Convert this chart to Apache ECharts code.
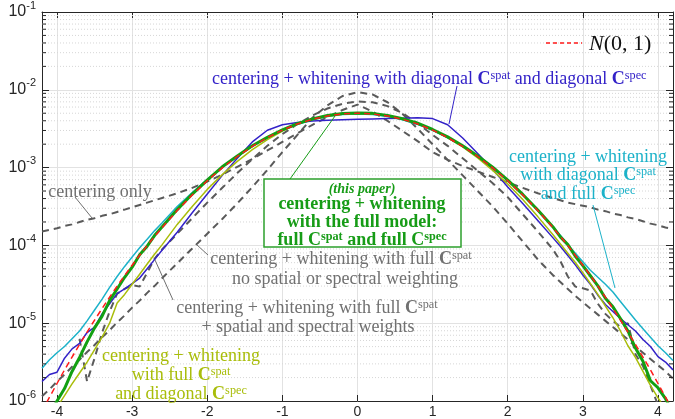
<!DOCTYPE html>
<html>
<head>
<meta charset="utf-8">
<title>whitened residuals</title>
<script src="https://cdn.jsdelivr.net/npm/echarts@6/dist/echarts.min.js"></script>
<style>
html, body { margin: 0; padding: 0; background: #fff; }
#wrap { position: relative; width: 675px; height: 419px; }
#chart { width: 675px; height: 419px; }
.note { position: absolute; white-space: nowrap; font-family: "Liberation Serif", serif; line-height: 1; pointer-events: none; }
.note b { font-weight: bold; }
.note sup { font-size: 68%; vertical-align: 0.42em; line-height: 0; }
.note .tp { font-style: italic; font-weight: bold; font-size: 78%; }
</style>
</head>
<body>
<div id="wrap"><div id="chart"></div></div>
<script>
// x positions of the sampled histogram values
const xs = [-4.2,-4.1,-4.0,-3.9,-3.8,-3.7,-3.6,-3.5,-3.4,-3.3,-3.2,-3.1,-3.0,-2.9,-2.8,-2.7,-2.6,
  -2.4,-2.2,-2.0,-1.8,-1.6,-1.4,-1.2,-1.0,-0.8,-0.6,-0.4,-0.2,0,0.2,0.4,0.6,0.8,1.0,1.2,1.4,1.6,1.8,2.0,2.2,2.4,
  2.6,2.7,2.8,2.9,3.0,3.1,3.2,3.3,3.4,3.5,3.6,3.7,3.8,3.9,4.0,4.1,4.2];

// every series below is log10 of the plotted density
const normalLog = [-6.13,-5.95,-5.775,-5.6,-5.436,-5.273,-5.115,-4.96,-4.811,-4.665,-4.524,-4.387,-4.255,-4.127,-4.003,-3.884,-3.769,
  -3.551,-3.352,-3.169,-3.004,-2.857,-2.727,-2.614,-2.518,-2.44,-2.379,-2.336,-2.31,-2.301,-2.31,-2.336,-2.379,-2.44,-2.518,-2.614,-2.727,-2.857,-3.004,-3.169,-3.352,-3.551,
  -3.769,-3.884,-4.003,-4.127,-4.255,-4.387,-4.524,-4.665,-4.811,-4.96,-5.115,-5.273,-5.436,-5.6,-5.775,-5.95,-6.13];
const fullModelLog = [-6.35,-6.18,-6.0,-5.84,-5.62,-5.44,-5.24,-5.06,-4.91,-4.71,-4.56,-4.41,-4.28,-4.12,-4.01,-3.87,-3.76,
  -3.54,-3.34,-3.16,-2.99,-2.85,-2.72,-2.61,-2.515,-2.435,-2.375,-2.33,-2.305,-2.298,-2.303,-2.33,-2.372,-2.43,-2.51,-2.605,-2.72,-2.85,-2.995,-3.16,-3.345,-3.545,
  -3.76,-3.89,-3.99,-4.14,-4.26,-4.39,-4.52,-4.68,-4.79,-4.94,-5.1,-5.32,-5.49,-5.74,-5.83,-5.97,-6.15];
const diagDiagLog = [-5.75,-5.66,-5.63,-5.45,-5.33,-5.26,-5.12,-5.05,-4.88,-4.75,-4.62,-4.56,-4.49,-4.42,-4.3,-4.18,-4.06,
  -3.83,-3.58,-3.34,-3.1,-2.88,-2.67,-2.52,-2.45,-2.42,-2.4,-2.39,-2.385,-2.38,-2.375,-2.37,-2.365,-2.36,-2.37,-2.45,-2.62,-2.82,-3.02,-3.25,-3.46,-3.68,
  -3.9,-4.01,-4.13,-4.25,-4.38,-4.5,-4.64,-4.76,-4.85,-4.94,-5.02,-5.1,-5.21,-5.3,-5.43,-5.5,-5.6];
const diagFullLog = [-5.58,-5.47,-5.38,-5.3,-5.2,-5.1,-4.97,-4.83,-4.69,-4.54,-4.4,-4.27,-4.15,-4.03,-3.92,-3.81,-3.71,
  -3.5,-3.32,-3.15,-2.995,-2.855,-2.728,-2.617,-2.522,-2.445,-2.385,-2.343,-2.318,-2.31,-2.318,-2.343,-2.385,-2.445,-2.522,-2.617,-2.728,-2.855,-2.995,-3.16,-3.345,-3.55,
  -3.76,-3.87,-3.99,-4.1,-4.21,-4.32,-4.41,-4.5,-4.6,-4.72,-4.84,-4.96,-5.07,-5.18,-5.29,-5.38,-5.48];
const fullDiagLog = [-6.4,-6.25,-6.08,-5.93,-5.78,-5.64,-5.5,-5.34,-5.18,-5.0,-4.74,-4.63,-4.5,-4.37,-4.24,-4.11,-3.99,
  -3.73,-3.5,-3.28,-3.09,-2.92,-2.77,-2.64,-2.53,-2.44,-2.38,-2.34,-2.315,-2.305,-2.31,-2.335,-2.375,-2.435,-2.515,-2.615,-2.735,-2.875,-3.035,-3.21,-3.41,-3.63,
  -3.86,-3.98,-4.1,-4.22,-4.35,-4.49,-4.63,-4.78,-4.93,-5.1,-5.29,-5.44,-5.62,-5.8,-5.96,-6.1,-6.25];
const centerOnlyLog = [-3.82,-3.8,-3.78,-3.75,-3.73,-3.7,-3.67,-3.65,-3.62,-3.6,-3.57,-3.54,-3.51,-3.48,-3.45,-3.42,-3.39,
  -3.33,-3.26,-3.18,-3.09,-2.99,-2.89,-2.78,-2.67,-2.56,-2.45,-2.35,-2.26,-2.19,-2.28,-2.4,-2.53,-2.66,-2.8,-2.9,-2.98,-3.05,-3.12,-3.19,-3.26,-3.33,
  -3.39,-3.42,-3.45,-3.47,-3.49,-3.51,-3.54,-3.56,-3.59,-3.61,-3.64,-3.66,-3.69,-3.72,-3.74,-3.77,-3.79];
const noWeightLog = [-5.94,-5.85,-5.75,-5.66,-5.56,-5.47,-5.37,-5.28,-5.18,-5.09,-4.99,-4.9,-4.8,-4.71,-4.61,-4.52,-4.42,
  -4.23,-4.04,-3.85,-3.66,-3.46,-3.25,-3.03,-2.8,-2.58,-2.36,-2.2,-2.08,-2.03,-2.06,-2.16,-2.31,-2.5,-2.7,-2.9,-3.1,-3.3,-3.5,-3.72,-3.95,-4.18,
  -4.38,-4.47,-4.56,-4.65,-4.73,-4.81,-4.89,-4.97,-5.05,-5.13,-5.21,-5.3,-5.38,-5.46,-5.54,-5.62,-5.71];
const weightedLog = [null,null,null,null,null,-5.2,-5.75,-5.45,-5.12,-4.85,-4.62,-4.56,-4.51,-4.53,-4.35,-4.17,-4.05,
  -3.85,-3.65,-3.45,-3.26,-3.07,-2.89,-2.72,-2.57,-2.44,-2.33,-2.24,-2.18,-2.15,-2.16,-2.21,-2.3,-2.43,-2.58,-2.72,-2.88,-3.04,-3.2,-3.38,-3.6,-3.82,
  -4.05,-4.2,-4.4,-4.53,-4.55,-4.58,-4.75,-4.88,-4.97,-5.05,-5.0,-5.4,-5.55,-5.8,-6.05,null,null];

const xTickLabels = [-4,-3,-2,-1,0,1,2,3,4];
const decades = [-6,-5,-4,-3,-2];
const mantissas = [2,3,4,5,6,7,8,9];

const SANS = 'Liberation Sans';
const INK = '#262626';
const BLUE = '#3322c8', CYAN = '#1cb2c9', GREEN = '#179c17', OLIVE = '#a9bd0a', GRAY = '#5a5a5a', TGRAY = '#707070';

const pts = logs => xs.map((x, i) => logs[i] === null ? null : [x, Math.pow(10, logs[i])]).filter(p => p);

const line = (name, logs, color, width, dash, z) => ({
  name, type: 'line', data: pts(logs), showSymbol: false, symbol: 'none', z,
  lineStyle: { color, width, type: dash || 'solid' }, clip: true
});

const chart = echarts.init(document.getElementById('chart'));

const axisLine = { show: true, onZero: false, lineStyle: { color: INK, width: 1 } };

chart.setOption({
  animation: false,
  backgroundColor: '#fff',
  grid: { left: 42, right: 2, top: 11, bottom: 18 },
  xAxis: [
    { type: 'value', min: -4.2, max: 4.2, splitNumber: 8, position: 'bottom',
      axisLine, axisTick: { inside: true, length: 6, lineStyle: { color: INK } },
      axisLabel: { color: INK, fontSize: 14, fontFamily: SANS, margin: 4,
        showMinLabel: false, showMaxLabel: false,
        formatter: v => xTickLabels.includes(v) ? String(v) : '' },
      splitLine: { show: true, lineStyle: { color: '#e2e2e2', width: 1 } } },
    { type: 'value', min: -4.2, max: 4.2, splitNumber: 8, position: 'top',
      axisLine, axisTick: { inside: true, length: 6, lineStyle: { color: INK } },
      axisLabel: { show: false }, splitLine: { show: false } }
  ],
  yAxis: [
    { type: 'log', logBase: 10, min: 1e-6, max: 1e-1, position: 'left',
      axisLine, axisTick: { inside: true, length: 7, lineStyle: { color: INK } },
      axisLabel: { margin: 6,
        formatter: v => '{m|10}{e|' + Math.round(Math.log10(v)) + '}',
        rich: { m: { fontSize: 16, fontFamily: SANS, color: INK, lineHeight: 24 },
                e: { fontSize: 11, fontFamily: SANS, color: INK, verticalAlign: 'top' } } },
      splitLine: { show: true, lineStyle: { color: '#e2e2e2', width: 1 } } },
    { type: 'log', logBase: 10, min: 1e-6, max: 1e-1, position: 'right',
      axisLine, axisTick: { inside: true, length: 7, lineStyle: { color: INK } },
      axisLabel: { show: false }, splitLine: { show: false } }
  ],
  series: [
    line('centering only', centerOnlyLog, GRAY, 2, [7, 5], 3),
    line('full Cspat, no weighting', noWeightLog, GRAY, 2, [7, 5], 3),
    line('full Cspat, weights', weightedLog, GRAY, 2, [7, 5], 3),
    line('diag Cspat, full Cspec', diagFullLog, CYAN, 1.5, null, 4),
    line('diag Cspat, diag Cspec', diagDiagLog, BLUE, 1.5, null, 4),
    line('full Cspat, diag Cspec', fullDiagLog, OLIVE, 1.5, null, 5),
    line('full model', fullModelLog, '#12a012', 3, null, 6),
    line('N(0,1)', normalLog, '#ff1a1a', 1.5, [6, 4], 7)
  ]
});

// minor log grid lines and minor ticks (2..9 x 10^k)
const gfx = [];
const px = (x, y) => chart.convertToPixel({ xAxisIndex: 0, yAxisIndex: 0 }, [x, y]);
decades.forEach(d => mantissas.forEach(m => {
  const v = m * Math.pow(10, d);
  const a = px(-4.2, v), b = px(4.2, v);
  gfx.push({ type: 'line', z: 1, silent: true,
    shape: { x1: a[0], y1: a[1], x2: b[0], y2: b[1] },
    style: { stroke: '#d6d6d6', lineWidth: 1, lineDash: [1, 2] } });
  gfx.push({ type: 'line', z: 50, silent: true,
    shape: { x1: a[0], y1: a[1], x2: a[0] + 4, y2: a[1] }, style: { stroke: INK, lineWidth: 1 } });
  gfx.push({ type: 'line', z: 50, silent: true,
    shape: { x1: b[0], y1: b[1], x2: b[0] - 4, y2: b[1] }, style: { stroke: INK, lineWidth: 1 } });
}));

const pointer = (x1, y1, x2, y2, color) => gfx.push({ type: 'line', z: 110, silent: true,
  shape: { x1, y1, x2, y2 }, style: { stroke: color, lineWidth: 1 } });

// text annotations as html over the canvas: {c|C} bold C, {s|..} superscript, {i|..} small italic
const wrap = document.getElementById('wrap');
const toHtml = t => t.replace(/\{c\|([^}]*)\}/g, '<b>$1</b>')
  .replace(/\{s\|([^}]*)\}/g, '<sup>$1</sup>')
  .replace(/\{i\|([^}]*)\}/g, '<span class="tp">$1</span>');
const note = (x, y, text, color, opts = {}) => {
  const d = document.createElement('div');
  d.className = 'note';
  d.innerHTML = toHtml(text);
  d.style.left = x + 'px';
  d.style.top = y + 'px';
  d.style.color = color;
  d.style.fontSize = (opts.size || 18) + 'px';
  if (opts.bold) d.style.fontWeight = 'bold';
  d.style.transform = opts.align === 'left' ? 'translate(0, -50%)' : 'translate(-50%, -50%)';
  wrap.appendChild(d);
};

// blue
note(212, 78, 'centering + whitening with diagonal {c|C}{s|spat} and diagonal {c|C}{s|spec}', BLUE, { align: 'left' });
pointer(457, 86, 449, 124, BLUE);
// cyan
note(588, 156, 'centering + whitening', CYAN);
note(588, 174, 'with diagonal {c|C}{s|spat}', CYAN);
note(588, 193, 'and full {c|C}{s|spec}', CYAN);
pointer(593, 205, 615, 288, CYAN);
// green box
gfx.push({ type: 'rect', z: 100, silent: true, shape: { x: 264, y: 179, width: 197, height: 68 },
  style: { fill: '#fff', stroke: '#2ca02c', lineWidth: 1.5 } });
note(362, 187, '{i|(this paper)}', GREEN);
note(362, 203, 'centering + whitening', GREEN, { bold: true });
note(362, 221, 'with the full model:', GREEN, { bold: true });
note(362, 239, 'full {c|C}{s|spat} and full {c|C}{s|spec}', GREEN, { bold: true });
pointer(290, 179, 335, 116, GREEN);
// gray
note(100, 191, 'centering only', TGRAY);
pointer(75, 197, 92, 218, TGRAY);
note(341, 258, 'centering + whitening with full {c|C}{s|spat}', TGRAY);
note(345, 278, 'no spatial or spectral weighting', TGRAY);
pointer(197, 245, 208, 255, TGRAY);
note(307, 307, 'centering + whitening with full {c|C}{s|spat}', TGRAY);
note(308, 326, '+ spatial and spectral weights', TGRAY);
pointer(155, 260, 173, 300, TGRAY);
// olive
note(181, 355, 'centering + whitening', OLIVE);
note(181, 374, 'with full {c|C}{s|spat}', OLIVE);
note(181, 393, 'and diagonal {c|C}{s|spec}', OLIVE);

// legend
gfx.push({ type: 'line', z: 120, silent: true, shape: { x1: 546, y1: 43, x2: 582, y2: 43 },
  style: { stroke: '#ff1a1a', lineWidth: 1.5, lineDash: [4, 3] } });
note(589, 43, '<i>N</i>(0, 1)', '#111', { size: 22, align: 'left' });

chart.setOption({ graphic: { elements: gfx } });
</script>
</body>
</html>
